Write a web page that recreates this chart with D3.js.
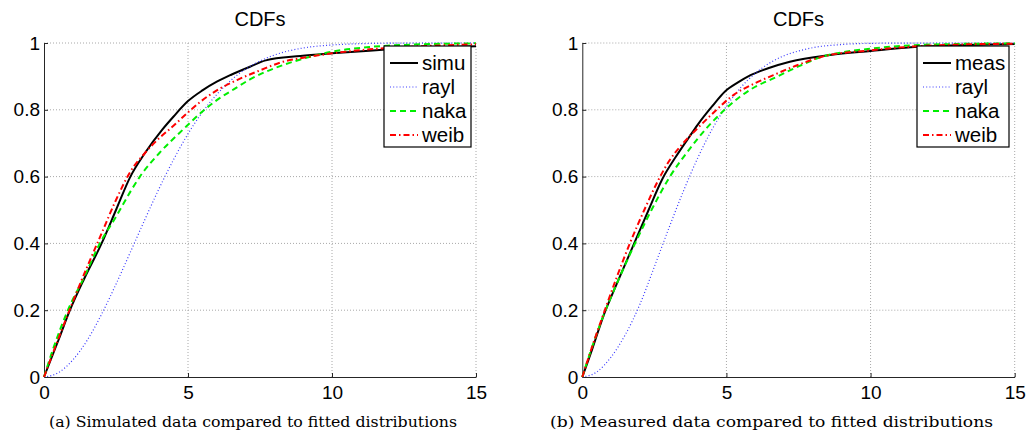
<!DOCTYPE html>
<html>
<head>
<meta charset="utf-8">
<script src="https://cdn.jsdelivr.net/npm/d3@7"></script>
<style>
  body { margin: 0; background: #fff; }
  svg { display: block; }
  .tick text { font-family: "Liberation Sans", Arial, sans-serif; font-size: 19px; fill: #000; }
</style>
</head>
<body>
<svg id="chart"></svg>
<script>
// tick values
let xTicks = [0, 5, 10, 15];
let yTicks = [0, 0.2, 0.4, 0.6, 0.8, 1];

// (a) simulated data, [x, cdf]
let simuA = [[0,0],[0.5,0.11],[0.9,0.2],[1.4,0.295],[2,0.4],[2.5,0.5],[3,0.6],[3.5,0.67],[4.1,0.74],[4.5,0.78],[5,0.826],[5.5,0.858],[6,0.884],[6.5,0.905],[7.15,0.929],[7.7,0.948],[8.9,0.961],[10,0.969],[11.3,0.977],[13,0.985],[15,0.99]];
let raylA = [[0,0],[0.5,0.013],[1,0.051],[1.5,0.11],[2,0.188],[2.5,0.278],[3,0.374],[3.5,0.471],[4,0.565],[4.5,0.651],[5,0.728],[5.5,0.793],[6,0.846],[6.5,0.889],[7,0.922],[7.5,0.946],[8,0.964],[9,0.985],[10,0.994],[11,0.998],[12,0.9994],[15,1]];
let nakaA = [[0,0],[0.3,0.08],[0.83,0.2],[1.4,0.3],[1.94,0.4],[2.5,0.48],[3,0.555],[3.33,0.6],[4,0.67],[4.84,0.742],[5.5,0.795],[6,0.829],[6.6,0.862],[7.15,0.891],[8.3,0.934],[9,0.953],[10,0.974],[11.3,0.988],[12.4,0.994],[15,0.999]];
let weibA = [[0,0],[0.5,0.115],[1,0.225],[1.5,0.33],[2,0.43],[2.5,0.53],[3,0.615],[3.5,0.67],[4,0.715],[4.4,0.745],[5,0.792],[5.4,0.822],[6,0.858],[6.7,0.889],[7.5,0.918],[8.3,0.944],[9,0.956],[10,0.969],[11.3,0.981],[13,0.99],[15,0.996]];

// (b) measured data, [x, cdf]
let measB = [[0,0],[0.35,0.085],[0.7,0.175],[1.25,0.29],[1.8,0.4],[2.3,0.5],[2.79,0.595],[3.25,0.66],[3.68,0.715],[4,0.755],[4.5,0.81],[4.95,0.855],[5.4,0.882],[5.82,0.903],[6.5,0.926],[7.2,0.944],[8.6,0.964],[10,0.976],[11.4,0.987],[13,0.993],[15,0.997]];
let raylB = [[0,0],[0.5,0.015],[1,0.06],[1.5,0.128],[2,0.218],[2.5,0.33],[3,0.445],[3.5,0.555],[4,0.655],[4.5,0.741],[5,0.811],[5.5,0.867],[6,0.909],[6.5,0.94],[7,0.962],[7.5,0.976],[8,0.986],[9,0.9955],[10,0.999],[11,0.9997],[15,1]];
let nakaB = [[0,0],[0.3,0.08],[0.65,0.165],[1.25,0.29],[1.83,0.4],[2.4,0.5],[3.04,0.6],[3.7,0.68],[4.31,0.745],[4.57,0.769],[5,0.805],[5.47,0.839],[6,0.869],[6.63,0.894],[7.5,0.93],[8.36,0.96],[9,0.972],[10,0.983],[11.4,0.993],[13,0.997],[15,0.999]];
let weibB = [[0,0],[0.3,0.08],[0.7,0.18],[1.2,0.3],[1.65,0.4],[2.15,0.5],[2.64,0.59],[3,0.645],[3.5,0.7],[4,0.745],[4.5,0.787],[5.24,0.844],[6,0.88],[6.63,0.904],[7.5,0.935],[8.36,0.96],[10,0.978],[11.4,0.989],[13,0.995],[15,0.998]];

let namesA = ['simu', 'rayl', 'naka', 'weib'];
let namesB = ['meas', 'rayl', 'naka', 'weib'];
let captionA = '(a) Simulated data compared to fitted distributions';
let captionB = '(b) Measured data compared to fitted distributions';

let width = 1030;
let height = 434;

let svg = d3.select('#chart')
  .attr('width', width)
  .attr('height', height);

let styles = [
  { color: '#000000', w: 2, dash: null },
  { color: '#3a3aff', w: 1.2, dash: '1,2.2' },
  { color: '#00ee00', w: 2, dash: '6,4' },
  { color: '#ff0000', w: 2, dash: '6,3,1.5,3' }
];

let drawPanel = (p) => {
  let xScale = d3.scaleLinear().domain([0, 15]).range([p.left, p.right]);
  let yScale = d3.scaleLinear().domain([0, 1]).range([377, 43]);
  let g = svg.append('g');

  // dotted grid (including the top and right edge)
  g.append('g')
    .selectAll('line')
    .data(xTicks.filter(d => d > 0))
    .enter()
    .append('line')
    .attr('x1', d => xScale(d)).attr('x2', d => xScale(d))
    .attr('y1', yScale(0)).attr('y2', yScale(1))
    .attr('stroke', '#a8a8a8')
    .attr('stroke-dasharray', '1,2');

  g.append('g')
    .selectAll('line')
    .data(yTicks.filter(d => d > 0))
    .enter()
    .append('line')
    .attr('x1', xScale(0)).attr('x2', xScale(15))
    .attr('y1', d => yScale(d)).attr('y2', d => yScale(d))
    .attr('stroke', '#a8a8a8')
    .attr('stroke-dasharray', '1,2');

  // axes
  let xAxis = d3.axisBottom(xScale).tickValues(xTicks)
    .tickSizeInner(-4).tickSizeOuter(0).tickPadding(9)
    .tickFormat(d3.format('d'));
  let yAxis = d3.axisLeft(yScale).tickValues(yTicks)
    .tickSizeInner(-4).tickSizeOuter(0).tickPadding(4)
    .tickFormat(d => d === 0 || d === 1 ? d3.format('d')(d) : d3.format('.1f')(d));

  g.append('g')
    .attr('transform', 'translate(0,' + yScale(0) + ')')
    .call(xAxis);
  g.append('g')
    .attr('transform', 'translate(' + xScale(0) + ',0)')
    .call(yAxis);
  g.selectAll('.domain').attr('stroke', '#262626');
  g.selectAll('.tick line').attr('stroke', '#262626');

  // curves
  let line = d3.line()
    .x(d => xScale(d[0]))
    .y(d => yScale(d[1]))
    .curve(d3.curveMonotoneX);

  p.series.forEach((s, i) => {
    g.append('path')
      .datum(s)
      .attr('d', line)
      .attr('fill', 'none')
      .attr('stroke', styles[i].color)
      .attr('stroke-width', styles[i].w)
      .attr('stroke-dasharray', styles[i].dash);
  });

  // title
  g.append('text')
    .attr('x', (p.left + p.right) / 2)
    .attr('y', 26)
    .attr('text-anchor', 'middle')
    .style('font-family', '"Liberation Sans", Arial, sans-serif')
    .style('font-size', '20px')
    .text('CDFs');

  // legend
  let lg = g.append('g');
  lg.append('rect')
    .attr('x', p.legX).attr('y', 46)
    .attr('width', p.legW).attr('height', 101)
    .attr('fill', '#fff')
    .attr('stroke', '#000')
    .attr('stroke-width', 1.2);

  p.names.forEach((name, i) => {
    let yy = 63 + i * 24;
    lg.append('line')
      .attr('x1', p.legX + 6).attr('x2', p.legX + 34)
      .attr('y1', yy).attr('y2', yy)
      .attr('stroke', styles[i].color)
      .attr('stroke-width', styles[i].w)
      .attr('stroke-dasharray', styles[i].dash);
    lg.append('text')
      .attr('x', p.legX + 38)
      .attr('y', yy)
      .attr('dy', '0.35em')
      .style('font-family', '"Liberation Sans", Arial, sans-serif')
      .style('font-size', '20.5px')
      .text(name);
  });

  // caption
  g.append('text')
    .attr('x', p.capX)
    .attr('y', 427)
    .attr('text-anchor', 'middle')
    .attr('textLength', p.capW)
    .attr('lengthAdjust', 'spacingAndGlyphs')
    .style('font-family', '"DejaVu Serif", serif')
    .style('font-size', '15.5px')
    .text(p.caption);
};

drawPanel({ left: 44, right: 476, series: [simuA, raylA, nakaA, weibA], names: namesA,
  legX: 384, legW: 87, capX: 253, capW: 408, caption: captionA });
drawPanel({ left: 582.3, right: 1014.7, series: [measB, raylB, nakaB, weibB], names: namesB,
  legX: 917, legW: 92, capX: 771.5, capW: 443, caption: captionB });
</script>
</body>
</html>
